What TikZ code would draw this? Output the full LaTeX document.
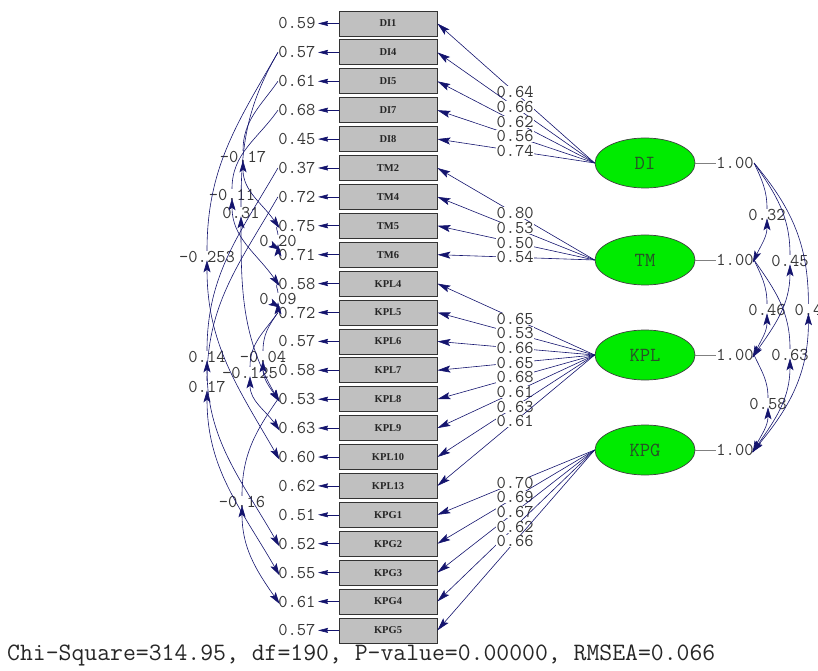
\documentclass[tikz,border=0pt]{standalone}
\usepackage{fontspec}
\usetikzlibrary{shapes.geometric,arrows.meta}
\newfontfamily\boxserif{Liberation Serif}
\definecolor{navyline}{RGB}{20,20,110}
\definecolor{boxgray}{RGB}{192,192,192}
\definecolor{latgreen}{RGB}{0,235,0}
\definecolor{numgray}{RGB}{55,55,55}
\definecolor{lattext}{RGB}{40,80,40}
\begin{document}
\begin{tikzpicture}[x=1pt,y=1pt,
 obs/.style={rectangle, draw=black!80, line width=0.8pt, fill=boxgray, minimum width=98pt, minimum height=25pt, inner sep=0pt, font=\boxserif\bfseries\fontsize{10.5}{10.5}\selectfont, text=black!85},
 lat/.style={ellipse, draw=black!75, line width=0.7pt, fill=latgreen, minimum width=100pt, minimum height=50pt, inner sep=0pt, text=lattext, font=\ttfamily\fontsize{20}{20}\selectfont},
 num/.style={inner sep=0.3pt, text=numgray, font=\ttfamily\fontsize{18}{18}\selectfont},
 lnum/.style={num, fill=white},
 load/.style={draw=navyline, line width=0.6pt, -{Stealth[length=13pt,width=7pt,inset=2.5pt]}},
 errarr/.style={draw=navyline, line width=0.6pt, -{Stealth[length=10pt,width=5pt,inset=1pt]}, shorten >=2pt},
 ecov/.style={draw=navyline, line width=0.6pt, {Stealth[length=12pt,width=7pt,inset=2.5pt]}-{Stealth[length=12pt,width=7pt,inset=2.5pt]}, shorten <=-3pt, shorten >=-3pt},
 unitline/.style={draw=gray, line width=0.5pt}
 ]
\useasboundingbox (0,0) rectangle (818,670);

% observed variables
\foreach \n [count=\i] in {DI1,DI4,DI5,DI7,DI8,TM2,TM4,TM5,TM6,KPL4,KPL5,KPL6,KPL7,KPL8,KPL9,KPL10,KPL13,KPG1,KPG2,KPG3,KPG4,KPG5}
  \node[obs] (b\i) at (388,{670-23.5-28.9*(\i-1)}) {\n};

% error variances
\foreach \v [count=\i] in {0.59,0.57,0.61,0.68,0.45,0.37,0.72,0.75,0.71,0.58,0.72,0.57,0.58,0.53,0.63,0.60,0.62,0.51,0.52,0.55,0.61,0.57}
  {\node[num, anchor=east] (e\i) at (316,{670-23.5-28.9*(\i-1)}) {\v};
   \draw[errarr] (b\i.west) -- (e\i.east);}

% latent variables
\node[lat] (DI)  at (645,670-163) {DI};
\node[lat] (TM)  at (645,670-260) {TM};
\node[lat] (KPL) at (645,670-355) {KPL};
\node[lat] (KPG) at (645,670-450) {KPG};

% loadings
\foreach \lv/\i/\v in {DI/1/0.64,DI/2/0.66,DI/3/0.62,DI/4/0.56,DI/5/0.74,
  TM/6/0.80,TM/7/0.53,TM/8/0.50,TM/9/0.54,
  KPL/10/0.65,KPL/11/0.53,KPL/12/0.66,KPL/13/0.65,KPL/14/0.68,KPL/15/0.61,KPL/16/0.63,KPL/17/0.61,
  KPG/18/0.70,KPG/19/0.69,KPG/20/0.67,KPG/21/0.62,KPG/22/0.66}
  \draw[load] (\lv.west) -- node[lnum, pos=0.506] {\v} (b\i.east);

% latent variances
\foreach \lv/\y in {DI/163,TM/260,KPL/355,KPG/450}
  {\node[num] (o\lv) at (735,670-\y) {1.00};
   \draw[unitline] (\lv.east) -- (o\lv.west);}

% latent covariances
\node[num] (p1) at (767,670-215) {0.32};
\node[num] (p2) at (790,670-261) {0.45};
\node[num, anchor=west] (p3) at (794,670-310) {0.4};
\node[num] (p4) at (767,670-310) {0.46};
\node[num] (p5) at (790,670-355) {0.63};
\node[num] (p6) at (768,670-404) {0.58};
\draw[ecov] (oDI.east) to[out=-65,in=90] (p1) to[out=-90,in=65] (oTM.east);
\draw[ecov] (oDI.east) to[out=-55,in=90] (p2) to[out=-90,in=55] (oKPL.east);
\draw[ecov] (oDI.east) to[out=-50,in=90] (p3) to[out=-90,in=50] (oKPG.east);
\draw[ecov] (oTM.east) to[out=-65,in=90] (p4) to[out=-90,in=65] (oKPL.east);
\draw[ecov] (oTM.east) to[out=-55,in=90] (p5) to[out=-90,in=55] (oKPG.east);
\draw[ecov] (oKPL.east) to[out=-65,in=90] (p6) to[out=-90,in=65] (oKPG.east);

% error covariances
\node[num] (cA) at (243,670-157) {-0.17};
\node[num] (cB) at (232,670-195) {-0.11};
\node[num] (cC) at (241,670-213) {0.31};
\node[num] (cD) at (278,670-241) {0.20};
\node[num] (cE) at (207,670-257) {-0.253};
\node[num] (cF) at (278,670-299) {0.09};
\node[num] (cG) at (207,670-357) {0.14};
\node[num] (cH) at (263,670-357) {-0.04};
\node[num] (cI) at (250,670-373) {-0.125};
\node[num] (cJ) at (207,670-387) {0.17};
\node[num] (cK) at (242,670-502) {-0.16};
\draw[ecov] (e3.west)  to[out=235,in=90] (cA) to[out=-90,in=125] (e8.west);
\draw[ecov] (e4.west)  to[out=235,in=90] (cB) to[out=-90,in=125] (e10.west);
\draw[ecov] (e2.west)  to[out=240,in=90] (cC) to[out=-90,in=120] (e14.west);
\draw[ecov] (e8.west)  to[out=210,in=90] (cD) to[out=-90,in=150] (e9.north west);
\draw[ecov] (e2.west)  to[out=240,in=90] (cE) to[out=-90,in=120] (e16.west);
\draw[ecov] (e10.west) to[out=210,in=90] (cF) to[out=-90,in=150] (e11.north west);
\draw[ecov] (e6.west)  to[out=240,in=90] (cG) to[out=-90,in=120] (e19.west);
\draw[ecov] (e11.west) to[out=235,in=90] (cH) to[out=-90,in=125] (e14.west);
\draw[ecov] (e11.west) to[out=235,in=90] (cI) to[out=-90,in=125] (e15.west);
\draw[ecov] (e7.west)  to[out=240,in=90] (cJ) to[out=-90,in=120] (e20.west);
\draw[ecov] (e14.west) to[out=235,in=90] (cK) to[out=-90,in=125] (e21.west);

% fit statistics
\node[anchor=west, inner sep=0pt, text=black!85, font=\ttfamily\fontsize{25}{25}\selectfont] (chi) at (7,670-655) {Chi-Square=314.95, df=190, P-value=0.00000, RMSEA=0.066};
\end{tikzpicture}
\end{document}
